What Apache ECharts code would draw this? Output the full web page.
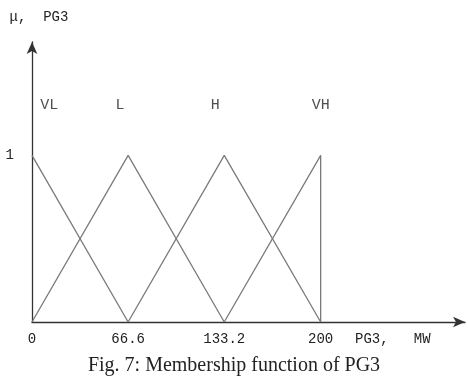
<!DOCTYPE html>
<html>
<head>
<meta charset="utf-8">
<script src="https://cdn.jsdelivr.net/npm/echarts@6/dist/echarts.min.js"></script>
<style>
  html, body { margin: 0; padding: 0; background: #fff; }
  #main { width: 468px; height: 382px; }
</style>
</head>
<body>
<div id="main"></div>
<script>
// breakpoints on the PG3 axis (MW)
var tickValues = [0, 66.6, 133.2, 200];
var setNames = ["VL", "L", "H", "VH"];
var setNameX = [12, 61, 127, 200];
var setNameY = 1.3;

var vl = [[0, 1], [66.6, 0]];
var lo = [[0, 0], [66.6, 1], [133.2, 0]];
var hi = [[66.6, 0], [133.2, 1], [200, 0]];
var vh = [[133.2, 0], [200, 1], [200, 0]];

var font = "'Courier New', 'Liberation Mono', monospace";
var lineColor = "#7a7a7a";
var textColor = "#222";

var chart = echarts.init(document.getElementById("main"));

function mfLine(name, data) {
  return {
    name: name,
    type: "line",
    data: data,
    symbol: "none",
    silent: true,
    lineStyle: { color: lineColor, width: 1.3 }
  };
}

var labelData = [];
for (var i = 0; i < setNames.length; i++) {
  labelData.push({ value: [setNameX[i], setNameY], name: setNames[i] });
}

chart.setOption({
  backgroundColor: "#ffffff",
  animation: false,
  grid: { left: 32, right: 3, top: 42, bottom: 60 },
  xAxis: {
    type: "value",
    min: 0,
    max: 300,
    splitLine: { show: false },
    axisTick: { show: false },
    axisLine: {
      symbol: ["none", "arrow"],
      symbolSize: [8, 12],
      lineStyle: { color: "#333", width: 1.3 }
    },
    axisLabel: {
      customValues: tickValues.concat([250]),
      formatter: function (v) {
        return v === 250 ? "PG3,   MW" : String(v);
      },
      color: textColor,
      fontFamily: font,
      fontSize: 14,
      margin: 10
    }
  },
  yAxis: {
    type: "value",
    min: 0,
    max: 1.68,
    name: "μ,  PG3",
    nameLocation: "end",
    nameGap: 18,
    nameTextStyle: { color: textColor, fontFamily: font, fontSize: 14, padding: [0, 0, 0, 14] },
    splitLine: { show: false },
    axisTick: { show: false },
    axisLine: {
      symbol: ["none", "arrow"],
      symbolSize: [8, 12],
      lineStyle: { color: "#333", width: 1.3 }
    },
    axisLabel: {
      customValues: [1],
      color: textColor,
      fontFamily: font,
      fontSize: 14,
      margin: 18
    }
  },
  graphic: [{
    type: "text",
    left: "center",
    top: 356,
    style: {
      text: "Fig. 7: Membership function of PG3",
      fill: "#222",
      font: "20px 'Liberation Serif'"
    }
  }],
  series: [
    mfLine("VL", vl),
    mfLine("L", lo),
    mfLine("H", hi),
    mfLine("VH", vh),
    {
      type: "scatter",
      data: labelData,
      symbolSize: 0,
      silent: true,
      label: {
        show: true,
        position: "inside",
        formatter: "{b}",
        color: textColor,
        fontFamily: font,
        fontSize: 15
      }
    }
  ]
});
</script>
</body>
</html>
